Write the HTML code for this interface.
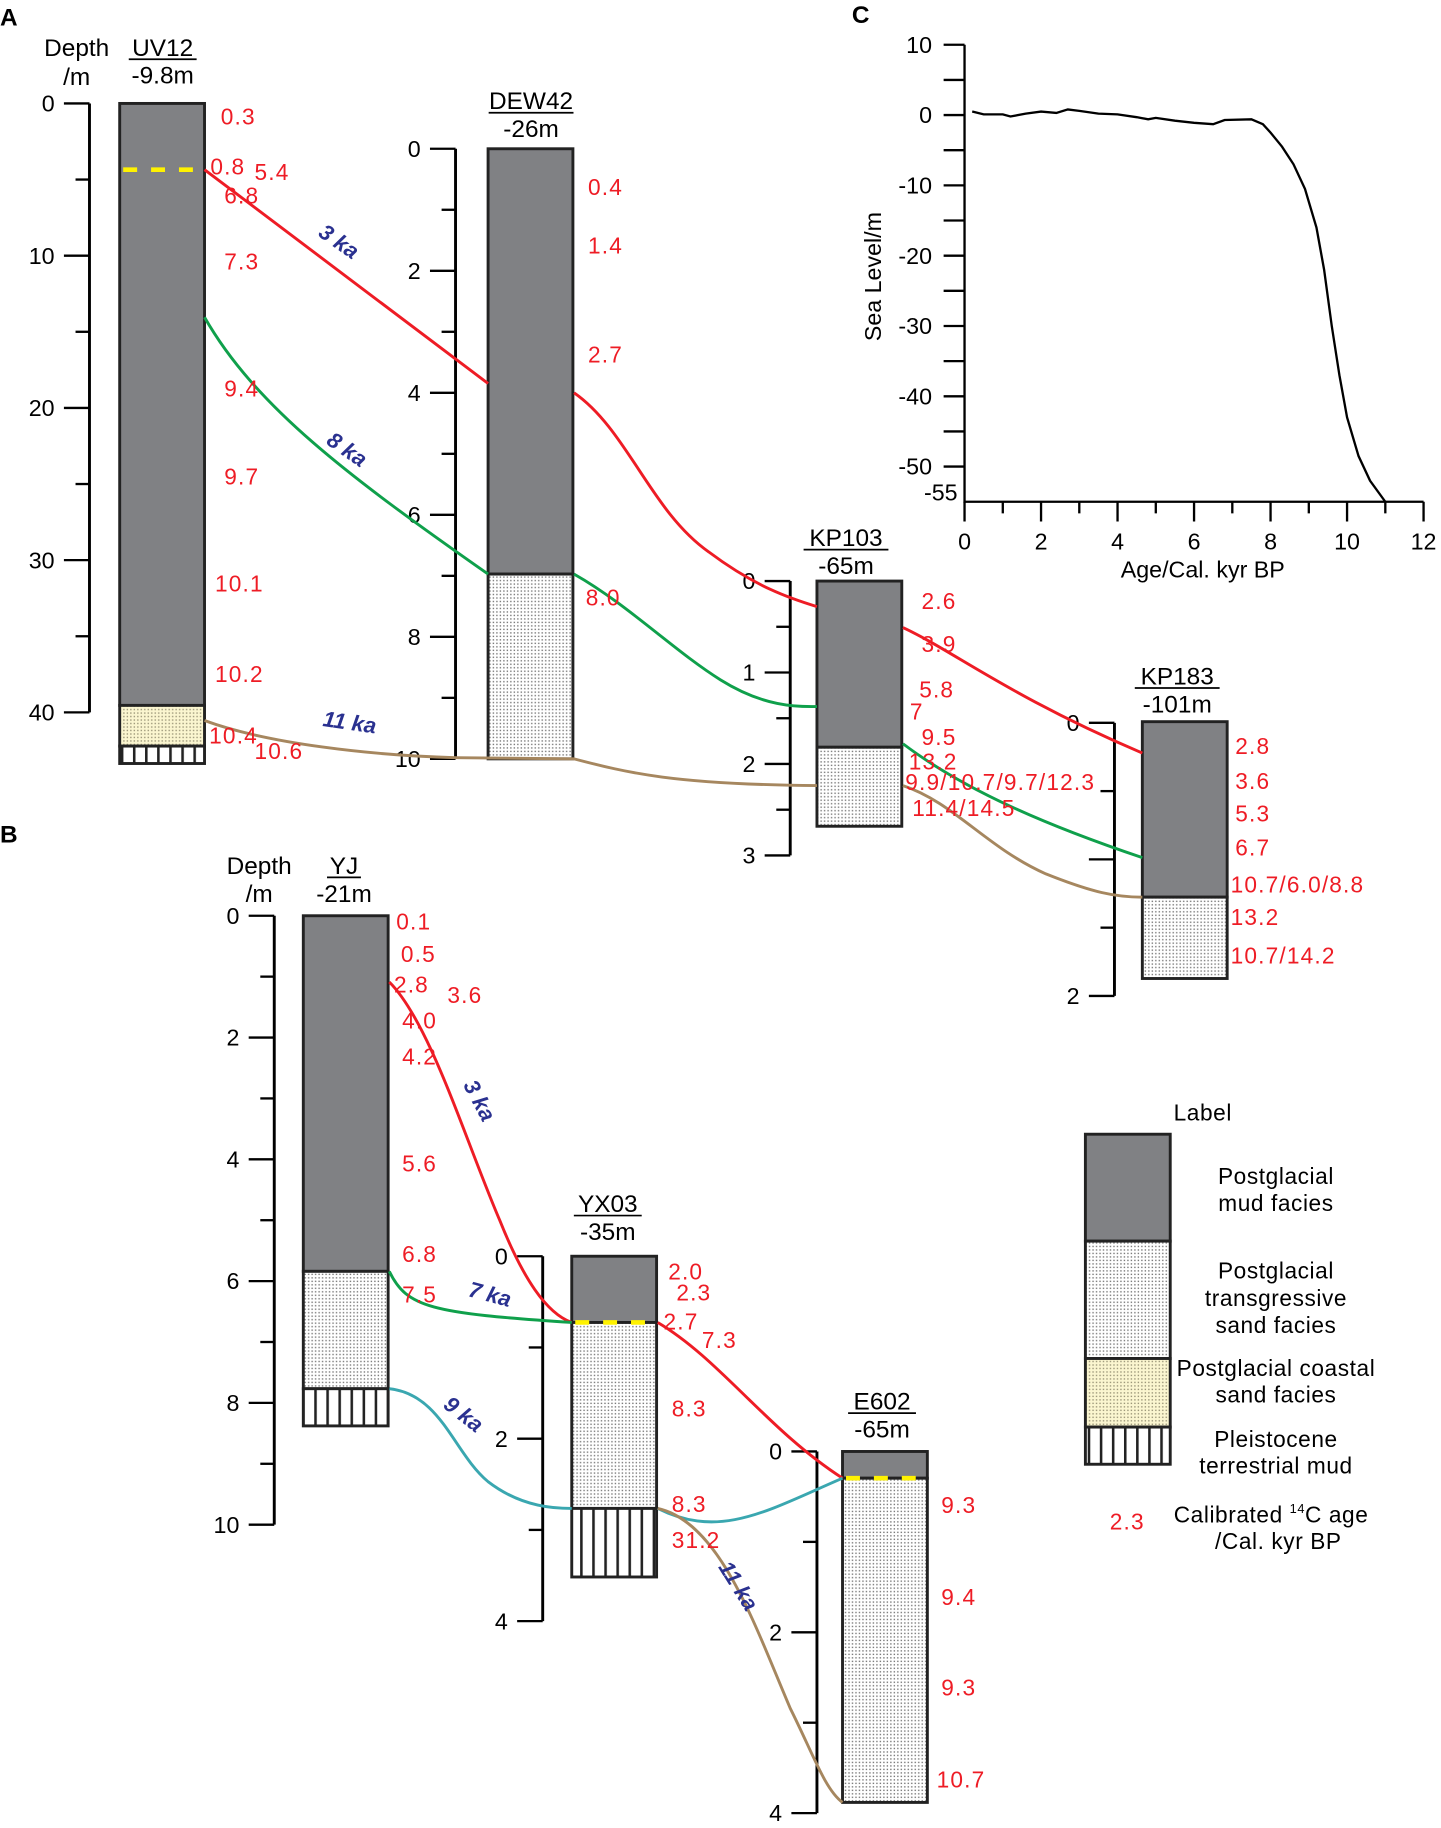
<!DOCTYPE html>
<html><head><meta charset="utf-8"><style>
html,body{margin:0;padding:0;background:#fff}
svg{display:block}
text{font-family:"Liberation Sans",sans-serif}
.r{fill:#ee1c25;font-size:19.5px;letter-spacing:1px}
.n{fill:#000;font-size:20px}
.h{fill:#000;font-size:21px}
.ka{fill:#2a3190;font-size:19px;font-weight:bold;font-style:italic}
.lg{fill:#000;font-size:19.5px;letter-spacing:0.5px}
</style></head><body>
<svg id="fig" width="1441" height="1828" viewBox="0 0 1240 1573" xmlns="http://www.w3.org/2000/svg">
<defs>
<pattern id="dots" width="3" height="3" patternUnits="userSpaceOnUse"><rect width="3" height="3" fill="#fff"/><rect x="1" y="1" width="1.2" height="1.2" fill="#777"/></pattern>
<pattern id="ydots" width="3" height="3" patternUnits="userSpaceOnUse"><rect width="3" height="3" fill="#fbf6d0"/><rect x="1" y="1" width="1.2" height="1.2" fill="#999477"/></pattern>
<pattern id="hatch" width="10.4" height="10" patternUnits="userSpaceOnUse"><rect width="10.4" height="10" fill="#fff"/><rect x="0" width="2.2" height="10" fill="#222"/></pattern>
</defs>
<g id="static"></g>
<g id="chartC"></g>
</svg>
<script>
// Sea level curve data (panel C)
const ages = [0.2,0.5,1.0,1.2,1.6,2.0,2.4,2.7,3.0,3.5,4.0,4.5,4.8,5.0,5.5,6.0,6.5,6.8,7.5,7.8,8.0,8.3,8.6,8.9,9.2,9.4,9.6,9.8,10.0,10.3,10.6,11.0];
const seaLevels = [0.5,0.1,0.1,-0.2,0.2,0.5,0.3,0.8,0.6,0.2,0.1,-0.3,-0.6,-0.4,-0.8,-1.1,-1.3,-0.7,-0.6,-1.3,-2.5,-4.5,-7,-10.5,-16,-22,-30,-37,-43,-48.5,-52,-55];
const xTicks = [0,2,4,6,8,10,12];
const yTicks = [10,0,-10,-20,-30,-40,-50];

const NS="http://www.w3.org/2000/svg";
function mk(parent,tag,attrs,text){const e=document.createElementNS(NS,tag);for(const k in attrs)e.setAttribute(k,attrs[k]);if(text!==undefined)e.textContent=text;parent.appendChild(e);return e;}
const S=document.getElementById('static');
const C=document.getElementById('chartC');

// Panel C
const x0=830,x1=1225,yTop=99,perM=6.05;
const sx=a=>x0+(a/12)*(x1-x0);
const sy=v=>yTop-v*perM;
let ax=mk(C,'path',{d:`M${x0} ${sy(10)}V${sy(-55)}H${x1}`,stroke:'#000','stroke-width':2,fill:'none'});

for(let v=10;v>=-50;v-=5){mk(C,'line',{x1:x0-18,x2:x0,y1:sy(v),y2:sy(v),stroke:'#000','stroke-width':2});}
yTicks.forEach(v=>{const t=mk(C,'text',{x:x0-28,y:sy(v)+7,'text-anchor':'end',class:'n'},String(v));
});
mk(C,'text',{x:x0-6,y:sy(-55)-1,'text-anchor':'end',class:'n','font-size':'15'},'-55');
for(let a=0;a<=12;a++){mk(C,'line',{x1:sx(a),x2:sx(a),y1:sy(-55),y2:sy(-55)+(a%2?10:17),stroke:'#000','stroke-width':2});}
xTicks.forEach(a=>{const t=mk(C,'text',{x:sx(a),y:sy(-55)+41,'text-anchor':'middle',class:'n'},String(a));
});
let xt=mk(C,'text',{x:1035,y:497,'text-anchor':'middle',class:'n'},'Age/Cal. kyr BP');

let yt=mk(C,'text',{x:758,y:238,'text-anchor':'middle',class:'n',transform:'rotate(-90 758 238)'},'Sea Level/m');

let line=mk(C,'polyline',{points:ages.map((a,i)=>sx(a)+','+sy(seaLevels[i])).join(' '),fill:'none',stroke:'#000','stroke-width':2});


// Panel letters
[['A',0,22],['B',0,725],['C',733,20]].forEach(p=>{const t=mk(S,'text',{x:p[1],y:p[2],'font-size':'21','font-weight':'bold'},p[0]);
});

function axis(name,x,y0,per,max,minor,labelStep,labelSkip){
  const g=mk(S,'g',{});
  mk(g,'line',{x1:x,x2:x,y1:y0,y2:y0+max*per,stroke:'#000','stroke-width':2.5});
  for(let v=0;v<=max+1e-9;v+=minor){const maj=Math.abs(v/labelStep-Math.round(v/labelStep))<1e-6;
    mk(g,'line',{x1:x-(maj?22:12),x2:x,y1:y0+v*per,y2:y0+v*per,stroke:'#000','stroke-width':2});
    if(maj&&!(labelSkip||[]).includes(Math.round(v)))mk(g,'text',{x:x-30,y:y0+v*per+7,'text-anchor':'end',class:'n'},String(Math.round(v)));}
}
axis('uv12-depth-axis',77,89,13.1,40,5,10);
axis('dew42-depth-axis',392,128,52.5,10,1,2);
axis('kp103-depth-axis',680,500,78.7,3,0.5,1);
axis('kp183-depth-axis',959,622,117.5,2,0.5,1,[1]);
axis('yj-depth-axis',236,788,52.4,10,1,2);
axis('yx03-depth-axis',467,1081,78.5,4,1,2);
axis('e602-depth-axis',703,1249,77.8,4,1,2);

function core(name,x,layers,dashY){
  const g=mk(S,'g',{});
  layers.forEach(l=>mk(g,'rect',{x:x,y:l[0],width:73,height:l[1]-l[0],fill:l[2],stroke:'#222','stroke-width':2.5}));
  if(dashY)mk(g,'line',{x1:x+3,x2:x+70,y1:dashY,y2:dashY,stroke:'#fff200','stroke-width':4,'stroke-dasharray':'12 12'});
}
const G='#808184';
core('uv12-core',103,[[89,607,G],[607,642,'url(#ydots)'],[642,657,'url(#hatch)']],146);
core('dew42-core',420,[[128,494,G],[494,653,'url(#dots)']]);
core('kp103-core',703,[[500,643,G],[643,711,'url(#dots)']]);
core('kp183-core',983,[[621,772,G],[772,842,'url(#dots)']]);
core('yj-core',261,[[788,1094,G],[1094,1195,'url(#dots)'],[1195,1227,'url(#hatch)']]);
core('yx03-core',492,[[1081,1138,G],[1138,1298,'url(#dots)'],[1298,1357,'url(#hatch)']],1138);
core('e602-core',725,[[1249,1272,G],[1272,1551,'url(#dots)']],1272);

function hdr(x,y1,t1,t2,small){const a=mk(S,'text',{x:x,y:y1,'text-anchor':'middle',class:'h'},t1);

mk(S,'line',{x1:x-t1.length*7.3,x2:x+t1.length*7.3,y1:y1+3,y2:y1+3,stroke:'#000','stroke-width':1.5});
mk(S,'text',{x:x,y:y1+24,'text-anchor':'middle',class:'h','font-size':small?'16':'21'},t2);}
hdr(140,48,'UV12','-9.8m');hdr(457,94,'DEW42','-26m');hdr(728,470,'KP103','-65m');hdr(1013,589,'KP183','-101m');
hdr(296,752,'YJ','-21m',1);hdr(523,1043,'YX03','-35m',1);hdr(759,1213,'E602','-65m',1);
mk(S,'text',{x:66,y:48,'text-anchor':'middle',class:'h'},'Depth');mk(S,'text',{x:66,y:73,'text-anchor':'middle',class:'h'},'/m');
mk(S,'text',{x:223,y:752,'text-anchor':'middle',class:'h'},'Depth');mk(S,'text',{x:223,y:776,'text-anchor':'middle',class:'h'},'/m');

const lines=[
 ['a-3ka-line','#ee1c25','M176 146 L420 330 M494 338 C540 370,560 440,610 475 C650 505,680 515,703 522 M777 540 C820 560,870 600,983 648'],
 ['a-8ka-line','#0fa04b','M176 273 C220 350,300 410,420 494 M494 494 C540 520,580 560,620 585 C660 610,690 608,703 608 M777 640 C830 680,900 710,983 738'],
 ['a-11ka-line','#a6875f','M176 620 C230 640,320 650,392 652 L494 653 C540 665,580 675,703 676 M777 676 C820 690,850 730,900 752 C940 768,960 772,983 772'],
 ['b-3ka-line','#ee1c25','M335 845 C370 880,400 980,430 1050 C450 1100,470 1130,492 1138 M566 1138 C620 1170,660 1230,725 1272'],
 ['b-7ka-line','#0fa04b','M335 1094 C350 1125,370 1130,492 1138'],
 ['b-9ka-line','#3aa7b0','M335 1195 C380 1200,390 1250,420 1275 C450 1298,480 1298,492 1298 M566 1298 C620 1325,660 1300,725 1272'],
 ['b-11ka-line','#a6875f','M566 1298 C620 1310,650 1400,680 1470 C700 1510,710 1540,725 1551']];
lines.forEach(l=>{const p=mk(S,'path',{d:l[2],stroke:l[1],'stroke-width':2.5,fill:'none'});});

[['3 ka',288,213,35],['8 ka',295,392,35],['11 ka',300,628,8],['3 ka',407,950,62],['7 ka',420,1120,15],['9 ka',395,1222,38],['11 ka',630,1368,58]].forEach(k=>{
 const t=mk(S,'text',{x:k[1],y:k[2],'text-anchor':'middle',class:'ka',transform:`rotate(${k[3]} ${k[1]} ${k[2]})`},k[0]);
 });

[[190,100,'0.3'],[181,143,'0.8'],[219,148,'5.4'],[193,168,'6.8'],[193,225,'7.3'],[193,334,'9.4'],[193,410,'9.7'],[185,502,'10.1'],[185,580,'10.2'],[180,633,'10.4'],[219,646,'10.6'],
[506,161,'0.4'],[506,211,'1.4'],[506,305,'2.7'],[504,514,'8.0'],
[793,517,'2.6'],[793,554,'3.9'],[791,593,'5.8'],[783,612,'7'],[793,634,'9.5'],[782,655,'13.2'],[779,673,'9.9/10.7/9.7/12.3'],[785,695,'11.4/14.5'],
[1063,642,'2.8'],[1063,672,'3.6'],[1063,700,'5.3'],[1063,729,'6.7'],[1059,761,'10.7/6.0/8.8'],[1059,789,'13.2'],[1059,822,'10.7/14.2'],
[341,793,'0.1'],[345,821,'0.5'],[339,847,'2.8'],[385,856,'3.6'],[346,878,'4.0'],[346,909,'4.2'],[346,1001,'5.6'],[346,1079,'6.8'],[346,1114,'7.5'],
[575,1094,'2.0'],[582,1112,'2.3'],[571,1137,'2.7'],[604,1153,'7.3'],[578,1212,'8.3'],[578,1294,'8.3'],[578,1325,'31.2'],
[810,1295,'9.3'],[810,1374,'9.4'],[810,1452,'9.3'],[806,1531,'10.7']].forEach(r=>{
 const t=mk(S,'text',{x:r[0],y:r[1]+7,class:'r'},r[2]);});

const L=mk(S,'g',{});
mk(L,'text',{x:1035,y:964,'text-anchor':'middle',class:'lg'},'Label');
[[976,1068,G],[1068,1169,'url(#dots)'],[1169,1228,'url(#ydots)'],[1228,1260,'url(#hatch)']].forEach(b=>mk(L,'rect',{x:934,y:b[0],width:73,height:b[1]-b[0],fill:b[2],stroke:'#222','stroke-width':2.5}));
[['Postglacial',1019],['mud facies',1042],['Postglacial',1100],['transgressive',1124],['sand facies',1147],['Postglacial coastal',1184],['sand facies',1207],['Pleistocene',1245],['terrestrial mud',1268]].forEach(t=>mk(L,'text',{x:1098,y:t[1],'text-anchor':'middle',class:'lg'},t[0]));
mk(L,'text',{x:955,y:1316,class:'r'},'2.3');
const cal=mk(L,'text',{x:1010,y:1310,class:'lg'},'Calibrated ');
mk(cal,'tspan',{'font-size':'11',dy:'-8'},'14');mk(cal,'tspan',{dy:'8'},'C age');
mk(L,'text',{x:1100,y:1333,'text-anchor':'middle',class:'lg'},'/Cal. kyr BP');
</script>
</body></html>
